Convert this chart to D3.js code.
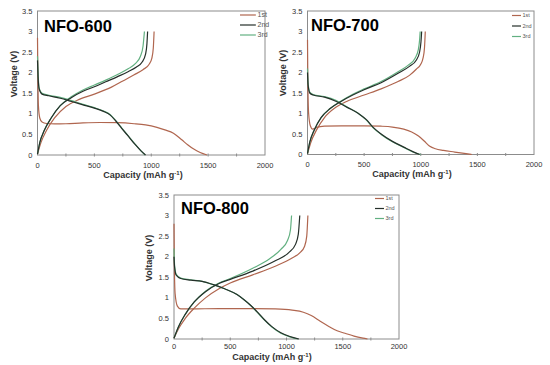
<html>
<head>
<style>
  body { margin: 0; background: #fff; }
  text { font-family: Arial, "Liberation Sans", sans-serif; }
</style>
</head>
<body>
<svg id="svg" width="550" height="365"></svg>
<script src="https://d3js.org/d3.v7.min.js"></script>
<script>

// ---- data (capacity mAh/g, voltage V) ----
var capTicks = [0, 500, 1000, 1500, 2000];
var voltTicks = [0, 0.5, 1, 1.5, 2, 2.5, 3, 3.5];
var cycles = ["1st", "2nd", "3rd"];
var titles = ["NFO-600", "NFO-700", "NFO-800"];

var nfo600_dis1 = [[0,2.85],[3,2.0],[8,1.2],[20,0.9],[40,0.8],[80,0.765],[150,0.755],[250,0.76],[400,0.78],[550,0.79],[700,0.785],[850,0.76],[950,0.73],[1050,0.67],[1120,0.61],[1195,0.53],[1268,0.37],[1320,0.25],[1370,0.15],[1430,0.06],[1490,0]];
var nfo600_chg1 = [[0,0.02],[30,0.3],[80,0.6],[150,0.9],[250,1.18],[350,1.33],[500,1.48],[650,1.65],[750,1.8],[850,1.95],[930,2.08],[980,2.2],[1005,2.35],[1018,2.6],[1025,3.0]];
var nfo600_dis2 = [[0,2.3],[5,1.9],[15,1.6],[40,1.48],[100,1.44],[200,1.38],[300,1.3],[400,1.22],[500,1.14],[580,1.06],[640,0.97],[690,0.82],[740,0.65],[800,0.45],[860,0.25],[910,0.1],[950,0]];
var nfo600_chg2 = [[0,0.02],[20,0.3],[60,0.6],[120,0.9],[200,1.2],[300,1.4],[400,1.55],[500,1.66],[600,1.78],[700,1.9],[800,2.03],[870,2.14],[920,2.26],[950,2.45],[962,2.7],[968,3.0]];
var nfo600_dis3 = [[0,2.4],[5,2.0],[15,1.62],[40,1.5],[100,1.45],[200,1.4],[300,1.32],[400,1.23],[500,1.15],[580,1.07],[640,0.98],[690,0.83],[740,0.66],[800,0.46],[860,0.26],[910,0.1],[945,0]];
var nfo600_chg3 = [[0,0.02],[20,0.3],[60,0.6],[120,0.9],[200,1.2],[300,1.42],[400,1.58],[500,1.7],[600,1.82],[700,1.95],[800,2.1],[860,2.22],[905,2.4],[928,2.65],[940,3.0]];

var nfo700_dis1 = [[0,2.8],[3,1.8],[10,1.0],[25,0.7],[45,0.62],[80,0.66],[150,0.69],[300,0.7],[500,0.7],[650,0.69],[750,0.67],[850,0.62],[920,0.55],[980,0.45],[1030,0.33],[1080,0.2],[1130,0.14],[1200,0.1],[1300,0.06],[1400,0.02],[1450,0]];
var nfo700_chg1 = [[0,0.02],[30,0.3],[80,0.6],[150,0.9],[250,1.15],[350,1.3],[500,1.45],[650,1.6],[800,1.78],[900,1.93],[960,2.08],[1000,2.2],[1020,2.35],[1033,2.6],[1040,3.0]];
var nfo700_dis2 = [[0,2.0],[5,1.7],[20,1.5],[50,1.45],[150,1.4],[250,1.3],[350,1.15],[450,1.0],[520,0.85],[580,0.66],[650,0.5],[750,0.32],[850,0.18],[930,0.07],[990,0]];
var nfo700_chg2 = [[0,0.02],[20,0.3],[60,0.6],[120,0.9],[200,1.12],[300,1.3],[400,1.45],[500,1.58],[650,1.75],[800,1.98],[900,2.15],[960,2.3],[990,2.5],[1002,2.75],[1008,3.0]];
var nfo700_dis3 = [[0,2.1],[5,1.75],[20,1.52],[50,1.46],[150,1.41],[250,1.32],[350,1.16],[450,1.0],[520,0.84],[580,0.65],[650,0.49],[750,0.31],[850,0.17],[930,0.06],[1000,0]];
var nfo700_chg3 = [[0,0.02],[20,0.3],[60,0.6],[120,0.9],[200,1.12],[300,1.31],[400,1.47],[500,1.6],[650,1.78],[800,2.02],[890,2.18],[950,2.35],[978,2.55],[990,2.8],[995,3.0]];

var nfo800_dis1 = [[0,2.8],[3,1.8],[10,1.1],[30,0.8],[60,0.73],[150,0.73],[400,0.74],[700,0.74],[900,0.73],[1050,0.7],[1150,0.65],[1220,0.57],[1300,0.43],[1380,0.3],[1450,0.2],[1520,0.14],[1600,0.07],[1680,0.02],[1720,0]];
var nfo800_chg1 = [[0,0.02],[40,0.25],[100,0.5],[180,0.75],[280,1.0],[400,1.22],[500,1.36],[700,1.56],[900,1.77],[1050,1.97],[1120,2.1],[1160,2.25],[1180,2.5],[1190,3.0]];
var nfo800_dis2 = [[0,2.0],[5,1.75],[20,1.55],[60,1.47],[150,1.43],[250,1.4],[350,1.32],[450,1.22],[560,1.08],[620,0.96],[680,0.82],[740,0.66],[800,0.48],[870,0.3],[950,0.15],[1030,0.06],[1110,0]];
var nfo800_chg2 = [[0,0.02],[40,0.3],[100,0.6],[180,0.9],[280,1.15],[400,1.35],[500,1.45],[700,1.65],[900,1.9],[1020,2.1],[1080,2.3],[1105,2.55],[1118,3.0]];
var nfo800_dis3 = [[0,2.2],[5,1.8],[20,1.57],[60,1.48],[150,1.44],[250,1.4],[350,1.32],[450,1.22],[560,1.08],[620,0.96],[680,0.82],[740,0.65],[800,0.47],[870,0.29],[950,0.14],[1030,0.05],[1100,0]];
var nfo800_chg3 = [[0,0.02],[40,0.3],[100,0.6],[180,0.9],[280,1.16],[400,1.36],[500,1.47],[700,1.72],[850,1.95],[950,2.18],[1010,2.4],[1035,2.65],[1045,3.0]];

// ---- styling / layout ----
var colors = { "1st": "#b0664f", "2nd": "#25302a", "3rd": "#62b081" };

var panels = [
  { x0: 37.5, x1: 265, y0: 155, y1: 11, title: [44, 32], legX: 240, legY: 15, legLen: 16, legGap: 10, legFs: 7,
    tickDy: 13, capX: 143, capY: 178, volX: 14, volY: 74,
    curves: { "1st": [nfo600_dis1, nfo600_chg1], "2nd": [nfo600_dis2, nfo600_chg2], "3rd": [nfo600_dis3, nfo600_chg3] } },
  { x0: 307.5, x1: 534, y0: 154.5, y1: 11, title: [311, 31], legX: 512, legY: 15.5, legLen: 9, legGap: 10.5, legFs: 5.5,
    tickDy: 12.5, capX: 412, capY: 176.5, volX: 283, volY: 73,
    curves: { "1st": [nfo700_dis1, nfo700_chg1], "2nd": [nfo700_dis2, nfo700_chg2], "3rd": [nfo700_dis3, nfo700_chg3] } },
  { x0: 174, x1: 399, y0: 339, y1: 195, title: [181, 214], legX: 375, legY: 198.5, legLen: 9, legGap: 10, legFs: 5.5,
    tickDy: 9.5, capX: 272, capY: 359.5, volX: 149, volY: 258,
    curves: { "1st": [nfo800_dis1, nfo800_chg1], "2nd": [nfo800_dis2, nfo800_chg2], "3rd": [nfo800_dis3, nfo800_chg3] } }
];

var svg = d3.select("#svg");
svg.append("rect").attr("width", 550).attr("height", 365).style("fill", "#fff");

panels.forEach(function(p, pi) {
  var x = d3.scaleLinear().domain([0, 2000]).range([p.x0, p.x1]);
  var y = d3.scaleLinear().domain([0, 3.5]).range([p.y0, p.y1]);
  var g = svg.append("g");

  // frame
  g.append("rect")
    .attr("x", p.x0).attr("y", p.y1)
    .attr("width", p.x1 - p.x0).attr("height", p.y0 - p.y1)
    .style("fill", "none").style("stroke", "#8c8c8c").style("stroke-width", 1);

  // x minor tick marks
  g.selectAll("line.xt").data(d3.range(250, 2000, 250))
    .join("line").classed("xt", true)
    .attr("x1", d => x(d)).attr("x2", d => x(d))
    .attr("y1", p.y0 - 1.5).attr("y2", p.y0 + 1.5)
    .style("stroke", "#8c8c8c");

  // tick labels
  g.selectAll("text.xl").data(capTicks)
    .join("text").classed("xl", true)
    .attr("x", d => x(d)).attr("y", p.y0 + p.tickDy)
    .attr("text-anchor", "middle")
    .style("font-size", "7.5px").style("fill", "#333")
    .text(d => d);
  g.selectAll("text.yl").data(voltTicks)
    .join("text").classed("yl", true)
    .attr("x", p.x0 - 5).attr("y", d => y(d)).attr("dy", "0.35em")
    .attr("text-anchor", "end")
    .style("font-size", "7.5px").style("fill", "#333")
    .text(d => d);

  // axis titles
  var cap = g.append("text")
    .attr("x", p.capX).attr("y", p.capY)
    .attr("text-anchor", "middle")
    .style("font-size", "9px").style("font-weight", "bold").style("fill", "#333");
  cap.append("tspan").text("Capacity (mAh g");
  cap.append("tspan").attr("dy", -3).style("font-size", "6px").text("-1");
  cap.append("tspan").attr("dy", 3).text(")");

  g.append("text")
    .attr("transform", "translate(" + p.volX + "," + p.volY + ") rotate(-90)")
    .attr("text-anchor", "middle").attr("dy", "0.35em")
    .style("font-size", "9px").style("font-weight", "bold").style("fill", "#333")
    .text("Voltage (V)");

  // panel title
  g.append("text")
    .attr("x", p.title[0]).attr("y", p.title[1])
    .style("font-size", "16.5px").style("font-weight", "bold").style("fill", "#000")
    .text(titles[pi]);

  // curves
  var line = d3.line().x(d => x(d[0])).y(d => y(d[1])).curve(d3.curveMonotoneX);
  ["1st", "3rd", "2nd"].forEach(function(c) {
    p.curves[c].forEach(function(arr) {
      g.append("path").datum(arr)
        .attr("d", line)
        .style("fill", "none")
        .style("stroke", colors[c])
        .style("stroke-width", 1.2);
    });
  });

  // legend
  cycles.forEach(function(c, i) {
    var ly = p.legY + i * p.legGap;
    g.append("line")
      .attr("x1", p.legX).attr("x2", p.legX + p.legLen)
      .attr("y1", ly).attr("y2", ly)
      .style("stroke", colors[c]).style("stroke-width", 1.2);
    g.append("text")
      .attr("x", p.legX + p.legLen + 1.5).attr("y", ly).attr("dy", "0.35em")
      .style("font-size", p.legFs + "px").style("fill", "#555")
      .text(c);
  });
});

</script>
</body>
</html>
